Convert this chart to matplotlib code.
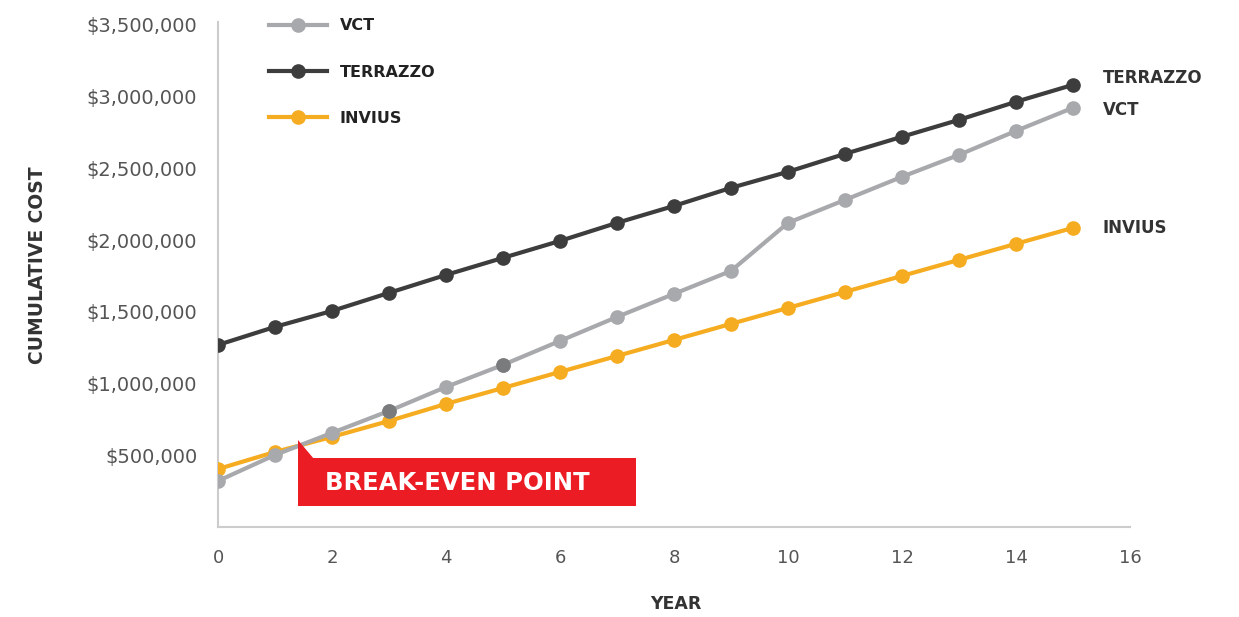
import matplotlib
matplotlib.use("Agg")
import matplotlib.pyplot as plt
from matplotlib.lines import Line2D
from matplotlib.patches import Rectangle, Polygon

plt.rcParams['font.family'] = ['DejaVu Sans']

years = list(range(16))
terrazzo = [1.269e6, 1.395e6, 1.506e6, 1.632e6, 1.757e6, 1.876e6, 1.994e6, 2.120e6,
            2.238e6, 2.364e6, 2.476e6, 2.601e6, 2.720e6, 2.838e6, 2.964e6, 3.082e6]
vct = [0.321e6, 0.502e6, 0.656e6, 0.809e6, 0.976e6, 1.130e6, 1.297e6, 1.464e6,
       1.625e6, 1.785e6, 2.120e6, 2.280e6, 2.441e6, 2.594e6, 2.761e6, 2.922e6]
invius = [0.404e6, 0.523e6, 0.628e6, 0.739e6, 0.858e6, 0.969e6, 1.081e6, 1.192e6,
          1.304e6, 1.416e6, 1.527e6, 1.639e6, 1.750e6, 1.862e6, 1.974e6, 2.085e6]
series_names = ["VCT", "TERRAZZO", "INVIUS"]
x_ticks = [0, 2, 4, 6, 8, 10, 12, 14, 16]
y_ticks = [500000, 1000000, 1500000, 2000000, 2500000, 3000000, 3500000]
vct_dark_idx = [3, 5]

C_TER = "#3d3d3d"
C_VCT = "#a8a9ac"
C_INV = "#f6ac20"
C_RED = "#ec1c24"
C_TXT = "#333333"

W, H = 1239, 617
fig = plt.figure(figsize=(W / 100, H / 100), dpi=100)
ax = fig.add_axes([218 / W, 1 - 527 / H, (1130 - 218) / W, (527 - 22) / H])

lw, ms = 3.0, 9.5
ax.plot(years, invius, color=C_INV, lw=lw, marker='o', ms=ms, zorder=3)
ax.plot(years, vct, color=C_VCT, lw=lw, marker='o', ms=ms, zorder=4)
ax.plot([years[i] for i in vct_dark_idx], [vct[i] for i in vct_dark_idx],
        ls='none', marker='o', ms=ms, color="#7a7b7d", zorder=4.5)
ax.plot(years, terrazzo, color=C_TER, lw=lw, marker='o', ms=ms, zorder=5)

ax.set_xlim(0, 16)
ax.set_ylim(0, 3.52e6)
ax.set_xticks(x_ticks)
ax.set_xticklabels([str(t) for t in x_ticks])
ax.set_yticks(y_ticks)
ax.set_yticklabels(["${:,}".format(v) for v in y_ticks])
ax.tick_params(axis='both', length=0, labelcolor="#555555")
ax.tick_params(axis='y', pad=15, labelsize=14)
ax.tick_params(axis='x', pad=16, labelsize=13)
for s in ['top', 'right']:
    ax.spines[s].set_visible(False)
for s in ['left', 'bottom']:
    ax.spines[s].set_color("#cccccc")
    ax.spines[s].set_linewidth(1.5)

# axis titles
fig.text(38 / W, 1 - 265 / H, "CUMULATIVE COST", rotation=90, ha='center', va='center',
         fontsize=13.5, fontweight='bold', color=C_TXT)
fig.text(676 / W, 1 - 604 / H, "YEAR", ha='center', va='center',
         fontsize=12.5, fontweight='bold', color=C_TXT)

# legend
handles = [Line2D([], [], color=C_VCT, lw=lw, marker='o', ms=ms),
           Line2D([], [], color=C_TER, lw=lw, marker='o', ms=ms),
           Line2D([], [], color=C_INV, lw=lw, marker='o', ms=ms)]
leg = ax.legend(handles, series_names, loc='upper left',
                bbox_to_anchor=(255 / W, 1 - 4 / H), bbox_transform=fig.transFigure,
                frameon=False, handlelength=3.6, handletextpad=0.8, labelspacing=1.95,
                prop={'weight': 'bold', 'size': 11.5})
for t in leg.get_texts():
    t.set_color("#222222")

# end labels
for name, vals, dy in [("TERRAZZO", terrazzo, -7), ("VCT", vct, 2), ("INVIUS", invius, 0)]:
    ax.annotate(name, xy=(years[-1], vals[-1]), xytext=(30, -dy), textcoords='offset pixels',
                ha='left', va='center', fontsize=12, fontweight='bold', color=C_TXT)

# break-even callout
fig.patches.append(Rectangle((298 / W, 1 - 506 / H), (636 - 298) / W, (506 - 458) / H,
                             transform=fig.transFigure, facecolor=C_RED, edgecolor='none', zorder=10))
fig.patches.append(Polygon([(298 / W, 1 - 440 / H), (298 / W, 1 - 459 / H), (314 / W, 1 - 459 / H)],
                           closed=True, transform=fig.transFigure, facecolor=C_RED,
                           edgecolor='none', zorder=10))
fig.text(457 / W, 1 - 483 / H, "BREAK-EVEN POINT", ha='center', va='center', fontsize=17.5,
         fontweight='bold', color='white', zorder=11)

fig.savefig("out.png", dpi=100, facecolor='white')
